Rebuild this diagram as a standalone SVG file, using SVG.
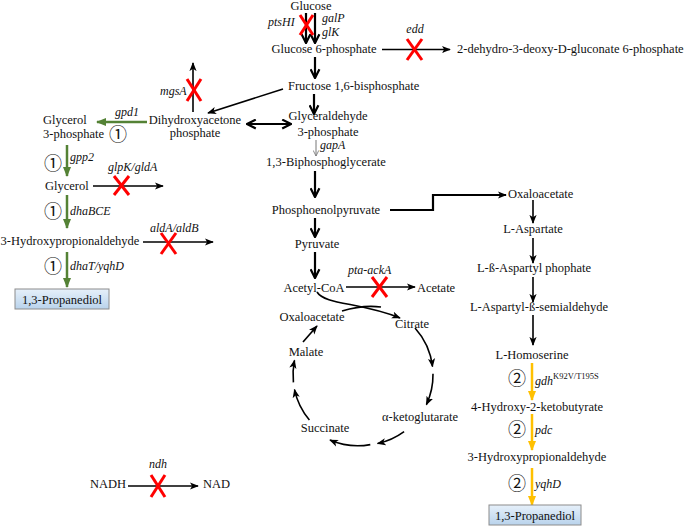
<svg xmlns="http://www.w3.org/2000/svg" width="685" height="526" viewBox="0 0 685 526">
<style>
text{font-family:"Liberation Serif","Times New Roman",serif;font-size:12.5px;fill:#111}
.m{text-anchor:middle}
.i{font-style:italic;font-size:12px}
.sup{font-size:8.5px}
.c{font-family:"Noto Sans CJK SC","DejaVu Sans",sans-serif;font-size:18px;text-anchor:middle;dominant-baseline:central}
.k{stroke:#000;fill:none}
.t{stroke-width:2.2}
.n{stroke-width:1.6}
.gr{stroke:#548235;stroke-width:2.5;fill:none}
.ye{stroke:#ffc000;stroke-width:2.5;fill:none}
.x line{stroke:#ff0000;stroke-width:3}
.box{fill:url(#bg);stroke:#8c8c8c;stroke-width:1}
</style>
<defs>
<linearGradient id="bg" x1="0" y1="0" x2="0" y2="1">
<stop offset="0" stop-color="#e6f0fa"/>
<stop offset="1" stop-color="#b9d3ec"/>
</linearGradient>
<marker id="av" viewBox="0 0 10 10" refX="9" refY="5" markerWidth="11" markerHeight="11" markerUnits="userSpaceOnUse" orient="auto-start-reverse">
<path d="M1,1 L9,5 L1,9" fill="none" stroke="#000" stroke-width="2"/>
</marker>
<marker id="ah" viewBox="0 0 10 10" refX="9" refY="5" markerWidth="9" markerHeight="9" markerUnits="userSpaceOnUse" orient="auto-start-reverse">
<path d="M0,1 L10,5 L0,9 L2.5,5 z" fill="#000"/>
</marker>
<marker id="ag" viewBox="0 0 10 10" refX="9" refY="5" markerWidth="10" markerHeight="10" markerUnits="userSpaceOnUse" orient="auto">
<path d="M0,1 L10,5 L0,9 z" fill="#548235"/>
</marker>
<marker id="ay" viewBox="0 0 10 10" refX="9" refY="5" markerWidth="10" markerHeight="10" markerUnits="userSpaceOnUse" orient="auto">
<path d="M0,1 L10,5 L0,9 z" fill="#ffc000"/>
</marker>
<marker id="agy" viewBox="0 0 10 10" refX="9" refY="5" markerWidth="7" markerHeight="7" markerUnits="userSpaceOnUse" orient="auto">
<path d="M1,1 L9,5 L1,9" fill="none" stroke="#777" stroke-width="1.2"/>
</marker>
</defs>

<g id="connectors">
<line class="k t" x1="306" y1="13" x2="306" y2="43" marker-end="url(#av)"/>
<line class="k t" x1="315" y1="13" x2="315" y2="43" marker-end="url(#av)"/>
<line class="k n" x1="382" y1="49.5" x2="450" y2="49.5" marker-end="url(#ah)"/>
<line class="k t" x1="315" y1="57" x2="315" y2="78" marker-end="url(#av)"/>
<line class="k n" x1="283" y1="89" x2="208" y2="113" marker-end="url(#ah)"/>
<line class="k n" x1="193" y1="112" x2="193" y2="63" marker-end="url(#ah)"/>
<line class="k t" x1="247" y1="124" x2="291" y2="124" marker-start="url(#av)" marker-end="url(#av)"/>
<line class="k t" x1="314" y1="94" x2="314" y2="114" marker-end="url(#av)"/>
<line x1="316" y1="140" x2="316" y2="156" stroke="#777" stroke-width="1" marker-end="url(#agy)"/>
<line class="k t" x1="315" y1="171" x2="315" y2="197" marker-end="url(#av)"/>
<path class="k t" d="M390,210 H433 V195 H506" marker-end="url(#ah)"/>
<line class="k t" x1="315" y1="218" x2="315" y2="237" marker-end="url(#av)"/>
<line class="k t" x1="315" y1="252" x2="315" y2="278" marker-end="url(#av)"/>
<line class="k n" x1="346" y1="287" x2="415" y2="287" marker-end="url(#ah)"/>
<path class="k n" d="M317,292 C325,305 360,302 400,318" marker-end="url(#ah)"/>
<path class="k n" d="M342,311 C355,307 366,305 381,307"/>
<path class="k n" d="M415,328 A70,70 0 0 1 432.5,366.5" marker-end="url(#ah)"/>
<path class="k n" d="M433,373.8 A70,70 0 0 1 426.4,404.6" marker-end="url(#ah)"/>
<path class="k n" d="M404.1,431.6 A70,70 0 0 1 377.6,443.5" marker-end="url(#ah)"/>
<path class="k n" d="M370.3,444.6 A70,70 0 0 1 330,440" marker-end="url(#ah)"/>
<path class="k n" d="M309.4,420 A70,70 0 0 1 294.5,389.6" marker-end="url(#ah)"/>
<path class="k n" d="M293.4,382.3 A70,70 0 0 1 294.5,360.4" marker-end="url(#ah)"/>
<path class="k n" d="M303,342 L317,326" marker-end="url(#ah)"/>
<line class="k n" x1="533" y1="200" x2="533" y2="223" marker-end="url(#ah)"/>
<line class="k n" x1="533" y1="238" x2="533" y2="263" marker-end="url(#ah)"/>
<line class="k n" x1="533" y1="277" x2="533" y2="302" marker-end="url(#ah)"/>
<line class="k n" x1="533" y1="315" x2="533" y2="345" marker-end="url(#ah)"/>
<line class="ye" x1="532" y1="363" x2="532" y2="400" marker-end="url(#ay)"/>
<line class="ye" x1="532" y1="414" x2="532" y2="450" marker-end="url(#ay)"/>
<line class="ye" x1="532" y1="468" x2="532" y2="505" marker-end="url(#ay)"/>
<line class="gr" x1="147" y1="122" x2="97" y2="122" marker-end="url(#ag)"/>
<line class="gr" x1="67" y1="145" x2="67" y2="176" marker-end="url(#ag)"/>
<line class="k n" x1="93" y1="186" x2="163" y2="186" marker-end="url(#ah)"/>
<line class="gr" x1="67" y1="195" x2="67" y2="228" marker-end="url(#ag)"/>
<line class="k n" x1="143" y1="242" x2="213" y2="242" marker-end="url(#ah)"/>
<line class="gr" x1="67" y1="252" x2="67" y2="287" marker-end="url(#ag)"/>
<line class="k n" x1="128" y1="486" x2="198" y2="486" marker-end="url(#ah)"/>
</g>

<g id="knockouts" class="x">
<line x1="300" y1="15" x2="313" y2="35"/><line x1="313" y1="15" x2="300" y2="35"/>
<line x1="407" y1="39" x2="422" y2="60"/><line x1="422" y1="39" x2="407" y2="60"/>
<line x1="187" y1="79" x2="201" y2="101"/><line x1="201" y1="79" x2="187" y2="101"/>
<line x1="114" y1="176" x2="129" y2="195"/><line x1="129" y1="176" x2="114" y2="195"/>
<line x1="161" y1="233" x2="176" y2="254"/><line x1="176" y1="233" x2="161" y2="254"/>
<line x1="372" y1="277" x2="387" y2="297"/><line x1="387" y1="277" x2="372" y2="297"/>
<line x1="151" y1="475" x2="165" y2="497"/><line x1="165" y1="475" x2="151" y2="497"/>
</g>

<g id="labels">
<text class="i" x="268" y="26">ptsHI</text>
<text class="i" x="322" y="22">galP</text>
<text class="i" x="322" y="36">glK</text>
<text class="i m" x="415" y="33">edd</text>
<text class="i" x="160" y="95">mgsA</text>
<text class="i" x="320" y="149">gapA</text>
<text class="i" x="348" y="274">pta-ackA</text>
<text class="i" x="115" y="116">gpd1</text>
<text class="i" x="70" y="161">gpp2</text>
<text class="i" x="108" y="171">glpK/gldA</text>
<text class="i" x="70" y="215">dhaBCE</text>
<text class="i" x="150" y="232">aldA/aldB</text>
<text class="i" x="70" y="270">dhaT/yqhD</text>
<text class="i" x="535" y="385">gdh<tspan class="sup" font-style="normal" dy="-6">K92V/T195S</tspan></text>
<text class="i" x="535" y="434">pdc</text>
<text class="i" x="535" y="488">yqhD</text>
<text class="i m" x="158" y="468">ndh</text>
<text class="c" x="118" y="133">①</text>
<text class="c" x="53" y="162">①</text>
<text class="c" x="53" y="210">①</text>
<text class="c" x="53" y="265">①</text>
<text class="c" x="517" y="377">②</text>
<text class="c" x="517" y="428">②</text>
<text class="c" x="517" y="482">②</text>
</g>

<g id="n-glucose"><text class="m" x="311" y="10">Glucose</text></g>
<g id="n-g6p"><text class="m" x="324" y="53">Glucose 6-phosphate</text></g>
<g id="n-kdpg"><text x="457" y="53">2-dehydro-3-deoxy-D-gluconate 6-phosphate</text></g>
<g id="n-fbp"><text x="288" y="90">Fructose 1,6-bisphosphate</text></g>
<g id="n-dhap"><text class="m" x="195" y="124">Dihydroxyacetone</text><text class="m" x="195" y="137">phosphate</text></g>
<g id="n-g3p"><text class="m" x="328" y="120">Glyceraldehyde</text><text class="m" x="328" y="136">3-phosphate</text></g>
<g id="n-bpg"><text class="m" x="326" y="166">1,3-Biphosphoglycerate</text></g>
<g id="n-pep"><text class="m" x="326" y="214">Phosphoenolpyruvate</text></g>
<g id="n-pyr"><text class="m" x="317" y="248">Pyruvate</text></g>
<g id="n-accoa"><text class="m" x="314" y="292">Acetyl-CoA</text></g>
<g id="n-acetate"><text x="417" y="292">Acetate</text></g>
<g id="n-oaa1"><text class="m" x="312" y="321">Oxaloacetate</text></g>
<g id="n-citrate"><text class="m" x="412" y="328">Citrate</text></g>
<g id="n-malate"><text class="m" x="306" y="356">Malate</text></g>
<g id="n-akg"><text class="m" x="420" y="421">α-ketoglutarate</text></g>
<g id="n-succinate"><text class="m" x="325" y="432">Succinate</text></g>
<g id="n-oaa2"><text x="508" y="198">Oxaloacetate</text></g>
<g id="n-asp"><text class="m" x="533" y="233">L-Aspartate</text></g>
<g id="n-asp4p"><text class="m" x="534" y="272">L-ß-Aspartyl phophate</text></g>
<g id="n-asa"><text class="m" x="539" y="311">L-Aspartyl-ß-semialdehyde</text></g>
<g id="n-hom"><text class="m" x="532" y="359">L-Homoserine</text></g>
<g id="n-hkb"><text class="m" x="537" y="411">4-Hydroxy-2-ketobutyrate</text></g>
<g id="n-3hpa2"><text class="m" x="537" y="461">3-Hydroxypropionaldehyde</text></g>
<g id="n-pdo2"><rect class="box" x="489" y="505" width="92" height="20"/><text class="m" x="535" y="520">1,3-Propanediol</text></g>
<g id="n-g3p-gly"><text x="43" y="124">Glycerol</text><text x="43" y="138">3-phosphate</text></g>
<g id="n-glycerol"><text x="45" y="190">Glycerol</text></g>
<g id="n-3hpa1"><text class="m" x="70" y="245">3-Hydroxypropionaldehyde</text></g>
<g id="n-pdo1"><rect class="box" x="15" y="289" width="94" height="20"/><text class="m" x="62" y="304">1,3-Propanediol</text></g>
<g id="n-nadh"><text x="90" y="488">NADH</text></g>
<g id="n-nad"><text x="203" y="488">NAD</text></g>
</svg>
